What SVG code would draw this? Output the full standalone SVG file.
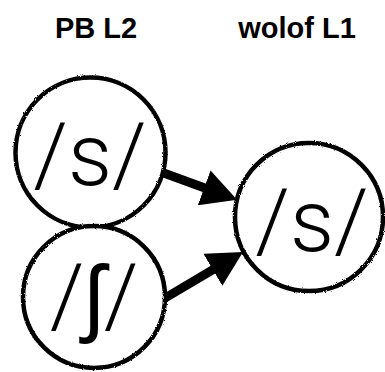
<svg xmlns="http://www.w3.org/2000/svg" width="385" height="372" viewBox="0 0 385 372">
  <defs>
    <marker id="head" markerUnits="userSpaceOnUse" viewBox="0 0 35 37" refX="5" refY="18.5" markerWidth="35" markerHeight="37" orient="auto">
      <path d="M0,0 L35,18.5 L0,37 z" fill="#000"/>
    </marker>
    <filter id="rough" x="-10%" y="-10%" width="120%" height="120%">
      <feTurbulence type="fractalNoise" baseFrequency="0.9" numOctaves="2" seed="3" result="n"/>
      <feDisplacementMap in="SourceGraphic" in2="n" scale="2.5"/>
    </filter>
  </defs>
  <style>
    .title { font-family: "Liberation Sans", Arial, sans-serif; font-weight: bold; font-size: 29px; fill: #000; text-anchor: middle; }
    .node circle { fill: #fff; stroke: #000; stroke-width: 4.5; filter: url(#rough); }
    .node text { font-family: Roboto, "Liberation Sans", sans-serif; font-weight: 300; font-size: 87px; fill: #000; text-anchor: middle; }
    .conn line { stroke: #000; stroke-width: 9; marker-end: url(#head); }
  </style>
  <text class="title" x="96" y="38">PB L2</text>
  <text class="title" x="297" y="38">wolof L1</text>
  <g id="conn" class="conn">
    <line x1="150" y1="168" x2="208.9" y2="189.5"/>
    <line x1="155" y1="304" x2="217.2" y2="267.2"/>
  </g>
  <g id="n1" class="node">
    <circle cx="90.5" cy="152.5" r="75"/>
    <text x="90" y="185">/s/</text>
  </g>
  <g id="n2" class="node">
    <circle cx="94" cy="297" r="71"/>
    <text x="94" y="326">/ʃ/</text>
  </g>
  <g id="n3" class="node">
    <circle cx="309" cy="217" r="74"/>
    <text x="312" y="251">/s/</text>
  </g>
</svg>
